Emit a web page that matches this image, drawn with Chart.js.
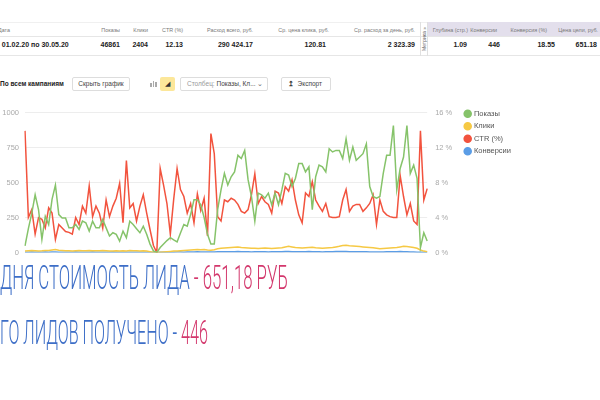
<!DOCTYPE html>
<html><head><meta charset="utf-8">
<script src="https://cdn.jsdelivr.net/npm/chart.js@4/dist/chart.umd.min.js"></script>
<style>
html,body{margin:0;padding:0;background:#fff;width:600px;height:400px;overflow:hidden;font-family:"Liberation Sans",Arial,sans-serif;}
.a{position:absolute;white-space:nowrap;}
.h{font-size:5.4px;color:#777;top:27px;}
.v{font-size:7px;color:#222;font-weight:bold;top:41px;}
.r{text-align:right;}
.line{position:absolute;height:1px;background:#e6e6e6;}
.btn{position:absolute;border:1px solid #ddd;border-radius:2px;font-size:6.5px;color:#444;box-sizing:border-box;line-height:12px;height:14px;top:77px;}
.big{position:absolute;left:0;font-family:Roboto,"Liberation Sans",sans-serif;font-weight:300;font-size:34px;transform-origin:0 0;white-space:nowrap;}
.bl{color:#3d6ec7}.pk{color:#d3376c}
.bar{position:absolute;width:1.5px;background:#aaa;bottom:4px;}
</style></head><body>
<div class="line" style="left:0;top:22px;width:600px;background:#f0f0f0"></div>
<div class="a" style="left:428px;top:22px;width:172px;height:14px;background:#e3dfec"></div>
<div class="line" style="left:0;top:36px;width:600px"></div>
<div class="line" style="left:0;top:55px;width:600px"></div>
<div class="a" style="left:420px;top:22px;width:1px;height:34px;background:#e0e0e0"></div>
<div class="a" style="left:427px;top:22px;width:1px;height:34px;background:#e0e0e0"></div>
<div class="a" style="left:424px;top:39px;font-size:5px;color:#666;transform:translate(-50%,-50%) rotate(-90deg);">Метрика »</div>

<div class="a h" style="left:-2px">Дата</div>
<div class="a h r" style="right:480px">Показы</div>
<div class="a h r" style="right:452px">Клики</div>
<div class="a h r" style="right:417px">CTR (%)</div>
<div class="a h r" style="right:347px">Расход всего, руб.</div>
<div class="a h r" style="right:271px">Ср. цена клика, руб.</div>
<div class="a h r" style="right:185px">Ср. расход за день, руб.</div>
<div class="a h r" style="right:132px">Глубина (стр.)</div>
<div class="a h r" style="right:103px">Конверсии</div>
<div class="a h r" style="right:53px">Конверсия (%)</div>
<div class="a h r" style="right:2px">Цена цели, руб.</div>

<div class="a v" style="left:-4px">с 01.02.20 по 30.05.20</div>
<div class="a v r" style="right:480px">46861</div>
<div class="a v r" style="right:452px">2404</div>
<div class="a v r" style="right:417px">12.13</div>
<div class="a v r" style="right:347px">290 424.17</div>
<div class="a v r" style="right:274px">120.81</div>
<div class="a v r" style="right:185px">2 323.39</div>
<div class="a v r" style="right:133px">1.09</div>
<div class="a v r" style="right:100px">446</div>
<div class="a v r" style="right:45px">18.55</div>
<div class="a v r" style="right:3px">651.18</div>

<div class="a" style="left:0;top:80px;font-size:6.5px;font-weight:bold;color:#222">По всем кампаниям</div>
<div class="btn" style="left:72px;width:58px;text-align:center">Скрыть график</div>
<div class="a" style="left:146px;top:77px;width:14px;height:14px">
  <div class="bar" style="left:4px;height:4px"></div><div class="bar" style="left:6.5px;height:6px"></div><div class="bar" style="left:9px;height:5px"></div>
</div>
<div class="a" style="left:160px;top:77px;width:15px;height:14px;background:#fce79a;border-radius:2px;font-size:7px;color:#333;text-align:center;line-height:14px">&#9698;</div>
<div class="btn" style="left:180px;width:88px;padding-left:6px"><span style="color:#999">Столбец:</span> Показы, Кл... <span style="color:#666">&#8964;</span></div>
<div class="btn" style="left:281px;width:50px;padding-left:6px"><b style="color:#333">&#8613;</b>&nbsp; Экспорт</div>

<div style="position:absolute;left:0;top:100px;width:600px;height:165px"><canvas id="c" width="600" height="165"></canvas></div>

<div class="big" id="l1" style="top:257px"><span class="bl">ДНЯ СТОИМОСТЬ ЛИДА </span><span class="pk"> - 651,18 РУБ</span></div>
<div class="big" id="l2" style="top:312px"><span class="bl">ГО ЛИДОВ ПОЛУЧЕНО - </span><span class="pk">446</span></div>

<script>
// categories: days 01.02.20 .. 30.05.20
const startDate = '2020-02-01';
const dayCount = 120;
const labels = [];
(function(){const d=new Date(startDate+'T00:00:00Z');for(let i=0;i<dayCount;i++){const x=new Date(d.getTime()+i*86400000);labels.push(String(x.getUTCDate()).padStart(2,'0')+'.'+String(x.getUTCMonth()+1).padStart(2,'0')+'.20');}})();

const seriesNames = ['Показы','Клики','CTR (%)','Конверсии'];

const shows = [
47,170,280,412,306,94,259,200,380,482,
271,247,247,176,176,200,165,224,212,153,
224,176,176,235,176,118,141,130,82,153,
106,224,200,170,141,188,130,60,12,0,
35,60,85,106,90,75,140,200,188,271,
376,376,341,250,130,60,60,306,447,565,
482,541,576,694,671,729,520,400,224,424,
412,388,424,341,424,341,447,565,553,471,
529,635,635,576,612,306,541,624,612,576,
741,718,729,729,671,812,659,753,659,682,
706,776,471,400,388,400,565,694,694,906,
447,600,682,906,565,624,529,35,141,82];

const clicks = [
10,12,14,12,10,12,15,14,18,22,16,14,12,12,10,12,14,12,12,14,13,12,12,14,12,10,10,12,10,12,10,14,12,12,10,12,10,6,2,
0,
2,4,6,8,10,10,12,14,16,18,20,22,20,
22,18,16,20,26,30,32,34,36,38,40,36,34,32,30,30,28,30,32,30,28,30,32,34,40,44,40,36,34,32,34,36,38,34,32,30,32,34,36,40,44,50,52,48,46,44,42,40,38,36,34,30,26,28,30,32,34,36,40,44,42,40,36,30,18,10,6];

const ctr = [
13.9,4.0,4.9,2.1,4.0,3.8,2.8,5.1,4.5,1.5,
3.2,2.8,2.4,2.3,2.1,4.0,3.2,5.3,4.5,7.6,
4.1,5.3,4.5,2.8,6.0,4.1,5.3,6.2,7.9,3.4,
10.5,5.1,5.6,3.6,5.3,6.6,4.5,2.6,0.8,0,
9.6,7.7,5.6,2.1,6.1,9.6,7.2,6.4,4.5,5.6,
3.4,6.7,4.8,6.2,1.9,13.6,11.3,4.1,3.6,6.0,
5.8,6.2,6.0,5.5,4.7,4.5,4.9,6.6,9.0,5.6,
6.4,5.8,5.5,4.5,7.0,6.8,5.6,7.5,7.0,8.3,
6.0,4.3,3.4,6.8,6.4,8.1,6.0,5.3,4.7,5.6,
4.1,4.0,4.0,4.1,6.0,7.2,4.7,5.3,5.5,5.5,
4.7,5.1,5.6,6.6,3.2,6.0,4.7,4.3,4.1,4.0,
4.0,8.8,6.4,4.3,5.6,3.6,3.2,13.9,6.0,7.3];

const conversions = [
2,1,3,2,2,1,3,2,3,4,2,2,1,2,2,3,2,2,1,2,3,2,2,1,2,2,3,2,1,2,2,1,2,2,1,2,1,1,0,
0,
1,1,2,2,2,3,3,2,3,4,4,5,4,
4,3,3,4,5,5,6,6,5,6,7,6,5,5,4,5,5,6,5,4,5,5,6,6,7,7,6,5,5,6,6,7,6,5,5,4,5,6,6,7,8,8,7,6,6,5,5,6,5,4,4,3,3,4,5,5,6,6,7,6,5,4,3,2,1,1,1];

const leftTicks = [0,250,500,750,1000];
const rightTicks = ['0 %','4 %','8 %','12 %','16 %'];

const colors = ['#86c36a','#f6c944','#f2533e','#5b9de6'];

const mk = (i,data,axis)=>({label:seriesNames[i],data:data,yAxisID:axis,borderColor:colors[i],backgroundColor:colors[i],borderWidth:1.5,pointRadius:0,tension:0,fill:false});

const legendShift = {id:'legendShift', afterLayout(chart){ if(chart.legend){ const dy = 6; chart.legend.top -= dy; chart.legend.bottom -= dy; chart.legend.left -= 3; chart.legend.right -= 3; if(chart.legend.legendHitBoxes){chart.legend.legendHitBoxes.forEach(b=>{b.top-=dy;b.left-=3;});} } }};

new Chart(document.getElementById('c'),{
  type:'line',
  data:{labels:labels,datasets:[mk(0,shows,'y'),mk(1,clicks,'y'),mk(2,ctr,'y1'),mk(3,conversions,'y')]},
  plugins:[legendShift],
  options:{
    responsive:false,animation:false,devicePixelRatio:1,
    layout:{padding:{left:0,right:76,top:11,bottom:12}},
    plugins:{
      legend:{position:'right',align:'start',labels:{usePointStyle:true,pointStyle:'circle',boxWidth:5,boxHeight:5,padding:5,color:'#555',font:{size:7.5,family:'"Liberation Sans",Arial'}}},
      tooltip:{enabled:false}
    },
    scales:{
      x:{display:false,offset:false},
      y:{position:'left',min:0,max:1000,afterBuildTicks:s=>{s.ticks=leftTicks.map(v=>({value:v}));},
         ticks:{color:'#aaa',font:{size:7.5},padding:6,callback:v=>String(v)},
         grid:{color:'#ededed',drawTicks:false},border:{display:false},
         afterFit:s=>{s.width=25;}},
      y1:{position:'right',min:0,max:16,afterBuildTicks:s=>{s.ticks=[0,4,8,12,16].map(v=>({value:v}));},
         ticks:{color:'#aaa',font:{size:7.5},padding:8,callback:(v,i)=>rightTicks[i]},
         grid:{display:false,drawTicks:false},border:{display:false},
         afterFit:s=>{s.width=36;}}
    }
  }
});

function fitW(id,w){const el=document.getElementById(id);const r=el.getBoundingClientRect();el.style.transform='scaleX('+(w/r.width)+')';}
fitW('l1',288);fitW('l2',208);
</script>
</body></html>
